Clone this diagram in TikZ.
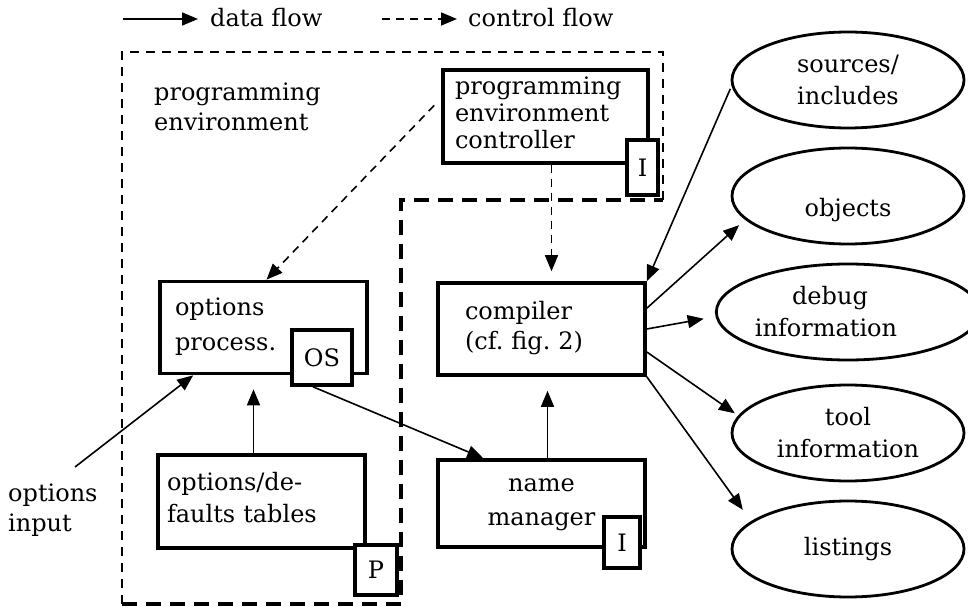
\documentclass[tikz,border=0pt]{standalone}
\usepackage{fontspec}
\setmainfont{DejaVu Serif}
\usetikzlibrary{arrows.meta,calc,shapes.geometric}

\begin{document}
\begin{tikzpicture}[
    x=1pt, y=-1pt,
    font=\fontsize{24}{27}\selectfont,
    >={Triangle[length=16pt,width=13pt]},
    block/.style={draw, line width=3.6pt, minimum width=207pt, minimum height=92pt, inner ysep=0pt, align=left, execute at begin node=\strut, execute at end node=\strut},
    tag/.style={draw, fill=white, line width=3.6pt, inner sep=0pt},
    store/.style={draw, ellipse, line width=2.8pt, minimum width=232pt, minimum height=96pt, inner sep=0pt, align=center},
    dataflow/.style={->, line width=1.6pt},
    ctrlflow/.style={->, line width=1.6pt, dash pattern=on 8pt off 6pt},
    thinborder/.style={line width=2.4pt, dash pattern=on 9pt off 7pt},
    thickborder/.style={line width=4.8pt, dash pattern=on 15pt off 9pt}
]
\useasboundingbox (0,0) rectangle (968,612);

% Legend
\node[anchor=base west, inner sep=0pt] (dflabel) at (210,27) {data flow};
\node[anchor=base west, inner sep=0pt] (cflabel) at (468,27) {control flow};
\coordinate (dfstart) at (123,19);
\coordinate (cfstart) at (382,19);
\draw[dataflow, shorten >=12pt] (dfstart) -- (dfstart -| dflabel.west);
\draw[ctrlflow, shorten >=11pt] (cfstart) -- (cfstart -| cflabel.west);

% Programming environment border, compiler part drawn heavier
\draw[thinborder] (663,200) -- (663,52) -- (122,52) -- (122,604);
\draw[thickborder] (122,604) -- (401,604) -- (401,200) -- (663,200);
\node[anchor=north west, align=left, inner sep=0pt, execute at begin node=\strut] (penv) at (154,83) {programming\\[3pt]environment};

% Processes and their tags
\node[block, minimum width=205pt, minimum height=93pt, text width=181pt, inner xsep=12pt] (pectrl) at (545.5,116.5) {programming\\environment\\controller};
\node[tag, minimum width=31pt, minimum height=55pt] (pectag) at (642.5,167.5) {I};

\node[block, text width=177pt, inner xsep=15pt] (optproc) at (263.5,327.5) {options\\[8pt]process.};
\node[tag, minimum width=60pt, minimum height=55pt] (ostag) at (322,357.5) {OS};

\node[block, minimum height=93pt, text width=189pt, inner xsep=9pt] (opttab) at (261.5,501.5) {options/de-\\[5pt]faults tables};
\node[tag, minimum width=42pt, minimum height=50pt] (ptag) at (376,570) {P};

\node[block, text width=153pt, inner xsep=27pt] (compiler) at (541.5,329) {compiler\\[3pt](cf.\ fig.\ 2)};

\node[block, minimum height=87pt, text width=187pt, inner xsep=10pt, align=center] (namemgr) at (541.5,503.5) {name\\[7pt]manager};
\node[tag, minimum width=36pt, minimum height=51pt] (nmtag) at (622,542.5) {I};

\node[anchor=north west, align=left, inner sep=0pt, execute at begin node=\strut] (optin) at (8,484) {options\\[3pt]input};
\coordinate (optsrc) at (75,467);

% Files
\node[store] (srcinc) at (848,80) {sources/\\[5pt]includes};
\node[store] (objects) at (848,196) {\raisebox{-14pt}[\height][\depth]{objects}};
\node[store] (debug) at (848,312) {debug\hspace*{36pt}\\[5pt]information\hspace*{44pt}};
\node[store] (toolinfo) at (848,433) {tool\\[5pt]information};
\node[store] (listings) at (848,549) {listings};

% Control flow
\draw[ctrlflow, shorten <=10pt] (pectrl.170) -- ($(optproc.north)+(3,0)$);
\draw[ctrlflow, shorten >=10pt] ($(pectrl.south)+(6,0)$) -- ($(compiler.north)+(10,0)$);

% Data flow
\draw[dataflow] (optsrc) -- ($(optproc.south west)+(35,0)$);
\draw[dataflow, shorten >=14pt] ($(opttab.north)+(-8,0)$) -- ($(opttab.north |- optproc.south)+(-8,0)$);
\draw[dataflow] ($(ostag.south)+(-9,0)$) -- ($(namemgr.north west)+(47,0)$);
\draw[dataflow, shorten >=14pt] ($(namemgr.north)+(6,0)$) -- ($(compiler.south)+(6,0)$);

\draw[dataflow, shorten <=3pt] (srcinc.183) -- (compiler.north east);
\draw[dataflow, shorten >=8pt] ($(compiler.north east)+(0,27)$) -- (objects.193);
\draw[dataflow, shorten >=12pt] (compiler.east) -- (debug.182);
\draw[dataflow, shorten >=4pt] ($(compiler.east)+(0,23)$) -- (toolinfo.171);
\draw[dataflow, shorten >=14pt] (compiler.south east) -- (listings.164);

\end{tikzpicture}
\end{document}
